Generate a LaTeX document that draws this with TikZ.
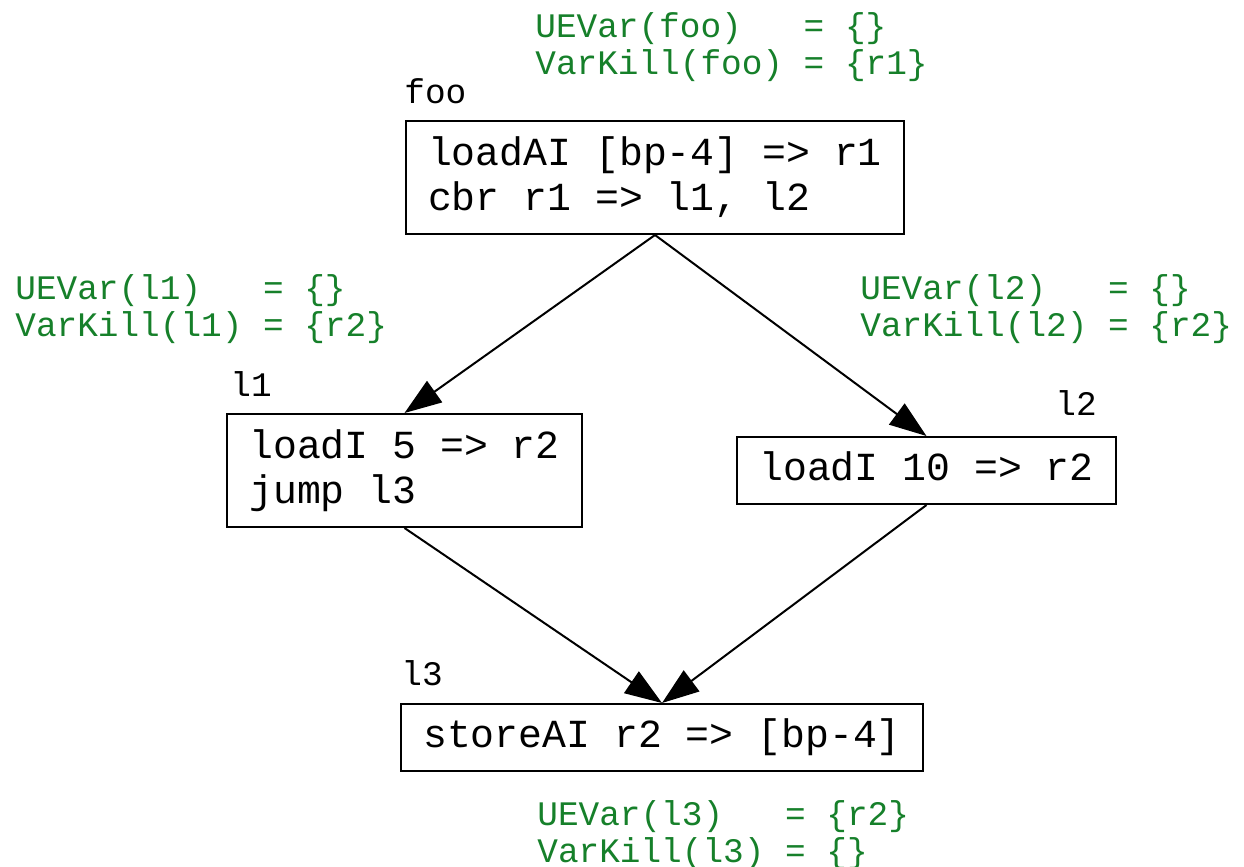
\documentclass[tikz,border=0pt]{standalone}
\usepackage{fontspec}
\usepackage{xcolor}
\newfontfamily\codefont{Liberation Mono}
\definecolor{setgreen}{RGB}{22,128,42}
\newcommand{\codestrut}{\rule[-4pt]{0pt}{18pt}}
\usetikzlibrary{positioning,arrows.meta}

\begin{document}
\begin{tikzpicture}[
				x=0.5pt, y=-0.5pt,
				block/.style={rectangle, draw, line width=1pt, inner xsep=11pt, inner ysep=0pt, align=left,
					font=\codefont\fontsize{19.9}{22.5}\selectfont},
				blockname/.style={inner sep=0pt, anchor=base west, font=\codefont\fontsize{17.2}{18.5}\selectfont},
				sets/.style={blockname, text=setgreen, align=left},
				arrow/.style={-{Triangle[length=18.5pt, width=13pt]}, line width=1pt}
				]
				\useasboundingbox (0,0) rectangle (1244,867);
				
				% Blocchi
				\node[block, minimum height=56.5pt] (foo) at (655,177.5) {\codestrut loadAI [bp-4] => r1\\\codestrut cbr r1 => l1, l2};
				\node[block, minimum height=56.5pt] (l1) at (404.5,470.5) {\codestrut loadI 5 => r2\\\codestrut jump l3};
				\node[block, minimum height=33.5pt] (l2) at (926.5,470.5) {\codestrut loadI 10 => r2};
				\node[block, minimum height=33.5pt] (l3) at (662,737.5) {\codestrut storeAI r2 => [bp-4]};
				
				% Nomi dei blocchi
				\node[blockname] (foolab) at (404,104) {foo};
				\node[blockname] (l1lab) at (230,396) {l1};
				\node[blockname] (l2lab) at (1055,415) {l2};
				\node[blockname] (l3lab) at (401,685) {l3};
				
				% Insiemi UEVar / VarKill (ancorati all'ultima riga)
				\node[sets] (foosets) at (535,75) {UEVar(foo)\ \ \ = \{\}\\VarKill(foo) = \{r1\}};
				\node[sets] (l1sets) at (15,336.5) {UEVar(l1)\ \ \ = \{\}\\VarKill(l1) = \{r2\}};
				\node[sets] (l2sets) at (860,336.5) {UEVar(l2)\ \ \ = \{\}\\VarKill(l2) = \{r2\}};
				\node[sets] (l3sets) at (537,862) {UEVar(l3)\ \ \ = \{r2\}\\VarKill(l3) = \{\}};
				
				% Archi
				\draw[arrow] (foo.south) -- (l1.north);
				\draw[arrow] (foo.south) -- (l2.north);
				\draw[arrow] (l1.south) -- (l3.north);
				\draw[arrow] (l2.south) -- (l3.north);
			\end{tikzpicture}
\end{document}
